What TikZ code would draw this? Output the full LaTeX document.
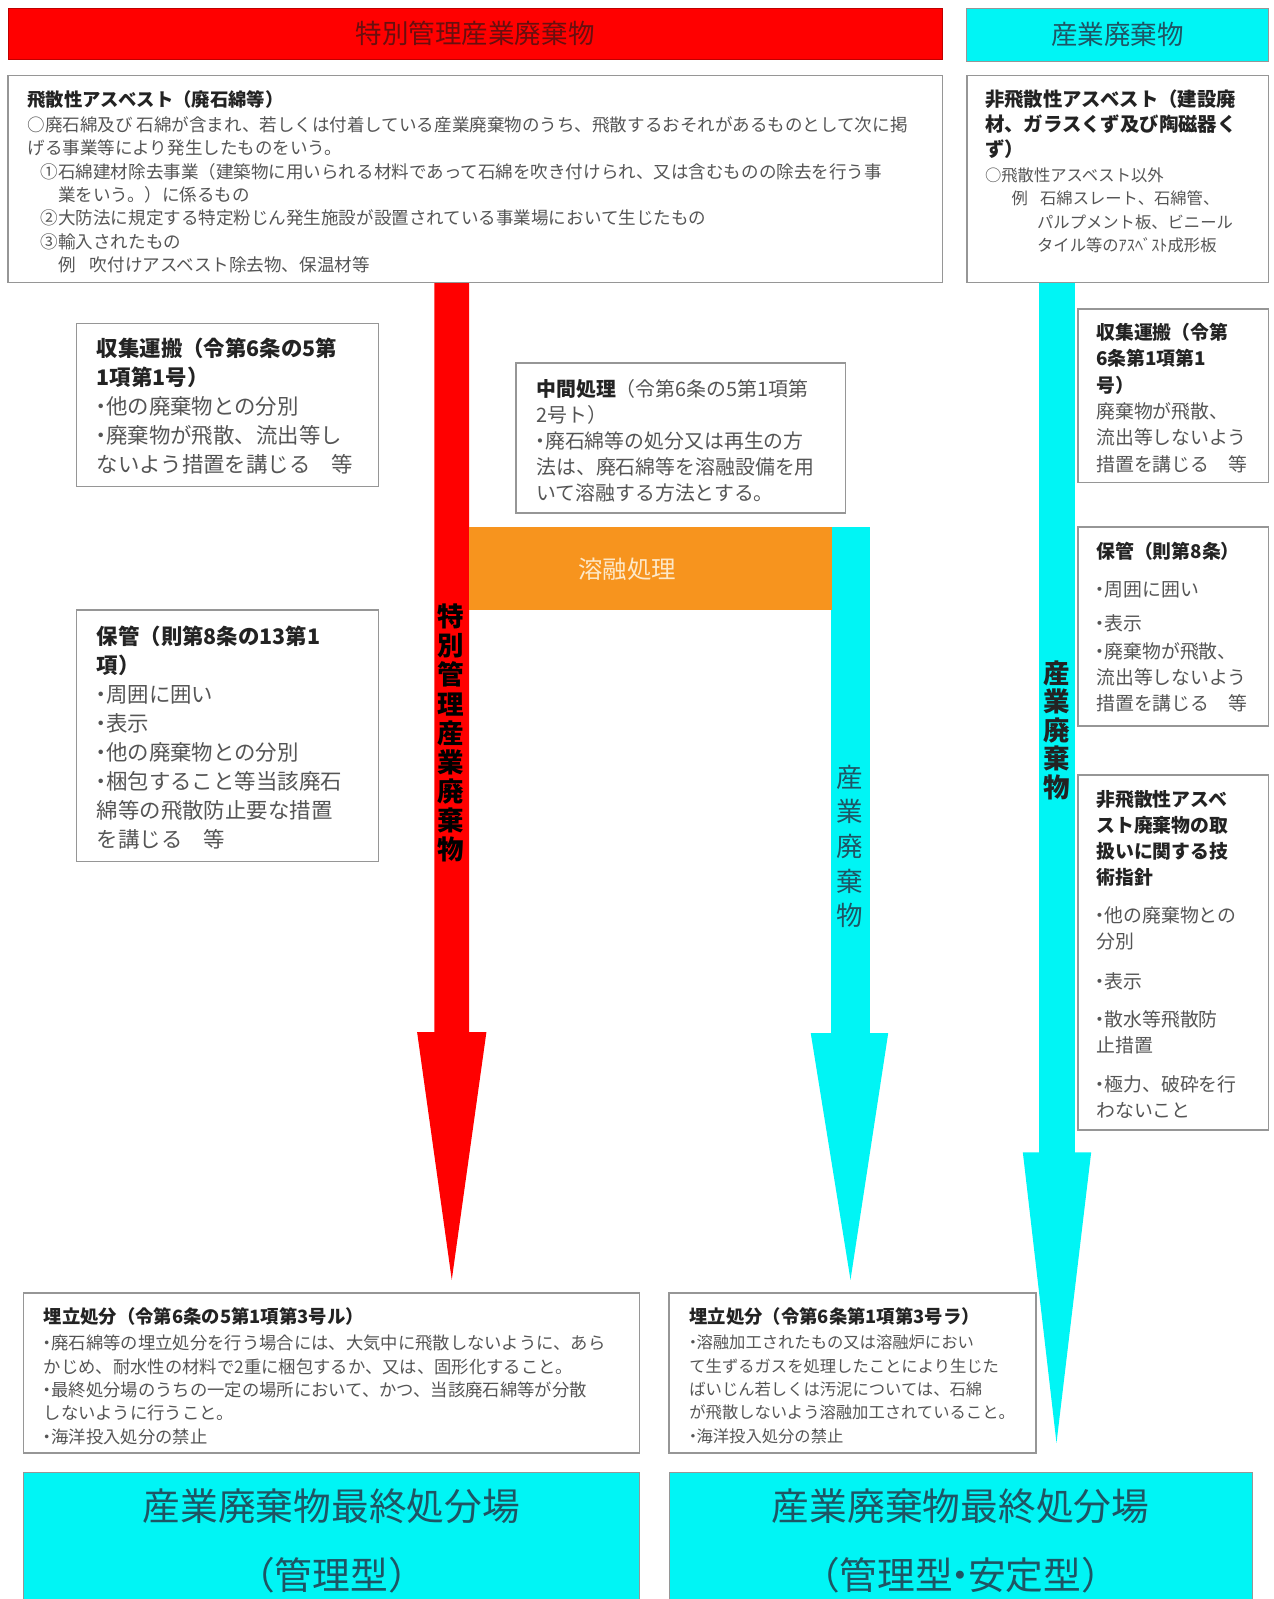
\documentclass[tikz,border=0pt]{standalone}
\usepackage{fontspec}
\setmainfont{Noto Sans CJK JP}
\definecolor{redfill}{RGB}{255,0,0}
\definecolor{cyanfill}{RGB}{0,245,245}
\definecolor{orangefill}{RGB}{247,148,30}
\definecolor{boxgray}{RGB}{150,150,150}
\definecolor{bodygray}{RGB}{85,85,85}
\definecolor{titledark}{RGB}{35,35,35}
\definecolor{headred}{RGB}{105,15,15}
\definecolor{tealtext}{RGB}{30,85,100}
\definecolor{orangetext}{RGB}{253,232,200}
\newcommand{\ttlpart}[1]{{\color{titledark}\bfseries #1}}
\newcommand{\bul}{\kern-0.28em・\kern-0.28em}
\newcommand{\tdot}{\kern-0.3em・\kern-0.3em}
\begin{document}
\begin{tikzpicture}[x=1pt,y=-1pt,
  box/.style={draw=boxgray,line width=1.5pt,fill=white,anchor=north west,inner sep=0pt,outer sep=0pt},
  txt/.style={anchor=north west,inner sep=0pt,outer sep=0pt,align=left,text=bodygray},
  ttl/.style={anchor=north west,inner sep=0pt,outer sep=0pt,align=left,text=titledark},
  vtxt/.style={inner sep=0pt,align=center},
  finalbox/.style={draw=boxgray,line width=1pt,fill=cyanfill,anchor=north west,inner sep=0pt},
  finaltxt/.style={inner sep=0pt,text=tealtext,font=\fontsize{37}{40}\selectfont}
]
\useasboundingbox (0,0) rectangle (1249,1568);
\fill[white] (0,0) rectangle (1249,1568);

% ---------- block arrows ----------
\fill[redfill] (426,270) -- (460,270) -- (460,1012) -- (477,1012) -- (443,1255) -- (409,1012) -- (426,1012) -- cycle;
\fill[cyanfill] (815,517) -- (853,517) -- (853,1013) -- (871,1013) -- (834,1255) -- (795,1013) -- (815,1013) -- cycle;
\fill[cyanfill] (1019,270) -- (1054,270) -- (1054,1130) -- (1070,1130) -- (1036,1415) -- (1003,1130) -- (1019,1130) -- cycle;

% orange bar
\node[anchor=north west,fill=orangefill,inner sep=0pt,minimum width=356,minimum height=81] (melt) at (460,517) {};
\node[text=orangetext,font=\fontsize{24}{26}\selectfont,inner sep=0pt] (meltt) at (615,558) {溶融処理};

% vertical labels
\node[vtxt,text=black,font=\bfseries\fontsize{26}{28.6}\selectfont] (vred) at (442,719) {特\\別\\管\\理\\産\\業\\廃\\棄\\物};
\node[vtxt,text=tealtext,font=\fontsize{26}{34}\selectfont] (vcyan) at (833,830) {産\\業\\廃\\棄\\物};
\node[vtxt,text=titledark,font=\bfseries\fontsize{26}{28}\selectfont] (vcyanr) at (1036,716) {産\\業\\廃\\棄\\物};

% ---------- headers ----------
\node[box,draw=red!75!black,line width=1pt,fill=redfill,minimum width=916,minimum height=50] (hdrA) at (8,8) {};
\node[text=headred,font=\fontsize{26}{30}\selectfont,inner sep=0pt] (hdrAt) at (hdrA.center) {特別管理産業廃棄物};
\node[box,line width=1pt,fill=cyanfill,minimum width=296,minimum height=52] (hdrB) at (948,8) {};
\node[text=tealtext,font=\fontsize{26}{30}\selectfont,inner sep=0pt] (hdrBt) at (hdrB.center) {産業廃棄物};

% ---------- top boxes ----------
\node[box,minimum width=916,minimum height=203] (tl) at (8,74) {};
\node[ttl,font=\bfseries\fontsize{18}{22}\selectfont] (tlt) at (27,88.5) {飛散性アスベスト（廃石綿等）};
\node[txt,font=\fontsize{17.2}{23}\selectfont] (tlb) at (27,114) {○廃石綿及び 石綿が含まれ、若しくは付着している産業廃棄物のうち、飛散するおそれがあるものとして次に掲\\
げる事業等により発生したものをいう。\\
\hspace{13pt}①石綿建材除去事業（建築物に用いられる材料であって石綿を吹き付けられ、又は含むものの除去を行う事\\
\hspace{30pt}業をいう。）に係るもの\\
\hspace{13pt}②大防法に規定する特定粉じん発生施設が設置されている事業場において生じたもの\\
\hspace{13pt}③輸入されたもの\\
\hspace{30pt}例\hspace{14pt}吹付けアスベスト除去物、保温材等};

\node[box,minimum width=296,minimum height=203] (tr) at (948,74) {};
\node[ttl,font=\bfseries\fontsize{19}{24.5}\selectfont] (trt) at (966,88) {非飛散性アスベスト（建設廃\\材、ガラスくず及び陶磁器く\\ず）};
\node[txt,font=\fontsize{16}{23}\selectfont] (trb) at (966,164.5) {○飛散性アスベスト以外\\
\hspace{26pt}例\hspace{12pt}石綿スレート、石綿管、\\
\hspace{51pt}パルプメント板、ビニール\\
\hspace{51pt}タイル等のｱｽﾍﾞｽﾄ成形板};

% ---------- left column ----------
\node[box,minimum width=296,minimum height=160] (lb1) at (75,317) {};
\node[txt,font=\fontsize{21}{28.5}\selectfont] (lb1t) at (95,331) {\ttlpart{収集運搬（令第6条の5第}\\\ttlpart{1項第1号）}\\\bul 他の廃棄物との分別\\\bul 廃棄物が飛散、流出等し\\ないよう措置を講じる\quad 等};

\node[box,minimum width=296,minimum height=247] (lb2) at (75,598) {};
\node[txt,font=\fontsize{21}{28.4}\selectfont] (lb2t) at (95,614) {\ttlpart{保管（則第8条の13第1}\\\ttlpart{項）}\\\bul 周囲に囲い\\\bul 表示\\\bul 他の廃棄物との分別\\\bul 梱包すること等当該廃石\\綿等の飛散防止要な措置\\を講じる\quad 等};

% ---------- middle box ----------
\node[box,minimum width=323,minimum height=147] (mb) at (506,356) {};
\node[txt,font=\fontsize{19.5}{25.5}\selectfont] (mbt) at (526,372) {\ttlpart{中間処理}（令第6条の5第1項第\\2号ト）\\\bul 廃石綿等の処分又は再生の方\\法は、廃石綿等を溶融設備を用\\いて溶融する方法とする。};

% ---------- right column ----------
\node[box,minimum width=187,minimum height=170] (rb1) at (1057,303) {};
\node[txt,font=\fontsize{18.5}{25.8}\selectfont] (rb1t) at (1075,317) {\ttlpart{収集運搬（令第}\\\ttlpart{6条第1項第1}\\\ttlpart{号）}\\廃棄物が飛散、\\流出等しないよう\\措置を講じる\quad 等};

\node[box,minimum width=187,minimum height=195] (rb2) at (1057,517) {};
\node[txt,font=\fontsize{18.5}{25.5}\selectfont] (rb2t) at (1075,532) {\ttlpart{保管（則第8条）}\\[11.5pt]\bul 周囲に囲い\\[7.5pt]\bul 表示\\[2.5pt]\bul 廃棄物が飛散、\\流出等しないよう\\措置を講じる\quad 等};

\node[box,minimum width=187,minimum height=348] (rb3) at (1057,760) {};
\node[txt,font=\fontsize{18.5}{25.5}\selectfont] (rb3t) at (1075,775) {\ttlpart{非飛散性アスベ}\\\ttlpart{スト廃棄物の取}\\\ttlpart{扱いに関する技}\\\ttlpart{術指針}\\[11.5pt]\bul 他の廃棄物との\\分別\\[13.5pt]\bul 表示\\[12.5pt]\bul 散水等飛散防\\止措置\\[12.5pt]\bul 極力、破砕を行\\わないこと};

% ---------- bottom boxes ----------
\node[box,minimum width=604,minimum height=157] (bl) at (23,1268) {};
\node[ttl,font=\bfseries\fontsize{18}{22}\selectfont] (blt) at (43,1282.5) {埋立処分（令第6条の5第1項第3号ル）};
\node[txt,font=\fontsize{17}{23}\selectfont] (blb) at (43,1309) {\bul 廃石綿等の埋立処分を行う場合には、大気中に飛散しないように、あら\\かじめ、耐水性の材料で2重に梱包するか、又は、固形化すること。\\\bul 最終処分場のうちの一定の場所において、かつ、当該廃石綿等が分散\\しないように行うこと。\\\bul 海洋投入処分の禁止};

\node[box,minimum width=360,minimum height=157] (bm) at (656,1268) {};
\node[ttl,font=\bfseries\fontsize{18}{22}\selectfont] (bmt) at (676,1282.5) {埋立処分（令第6条第1項第3号ラ）};
\node[txt,font=\fontsize{16}{23}\selectfont] (bmb) at (676,1309) {\bul 溶融加工されたもの又は溶融炉におい\\て生ずるガスを処理したことにより生じた\\ばいじん若しくは汚泥については、石綿\\が飛散しないよう溶融加工されていること。\\\bul 海洋投入処分の禁止};

% ---------- final disposal sites ----------
\node[finalbox,minimum width=604,minimum height=140] (fa) at (23,1443) {};
\node[finaltxt] (fat1) at (325,1477) {産業廃棄物最終処分場};
\node[finaltxt] (fat2) at (325,1545) {（管理型）};
\node[finalbox,minimum width=572,minimum height=140] (fb) at (656,1443) {};
\node[finaltxt] (fbt1) at (942,1477) {産業廃棄物最終処分場};
\node[finaltxt] (fbt2) at (942,1545) {（管理型\tdot 安定型）};
\end{tikzpicture}
\end{document}
